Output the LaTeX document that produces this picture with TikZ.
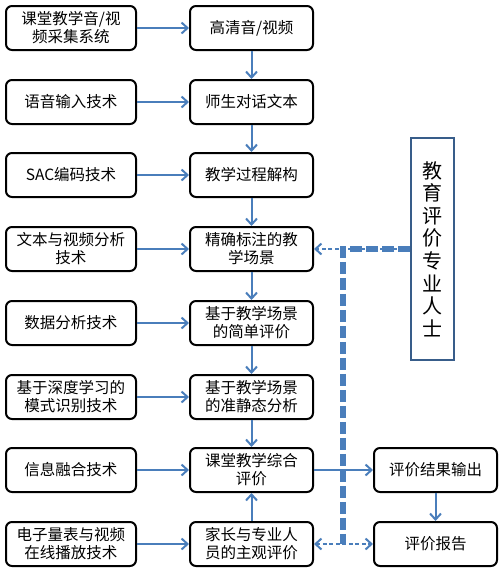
\documentclass[tikz,border=0pt]{standalone}
\usepackage{fontspec}
\setmainfont{Noto Sans CJK SC}
\usetikzlibrary{arrows.meta, positioning}
\definecolor{arrowblue}{HTML}{4A7EBB}
\definecolor{edgeblue}{HTML}{385D8A}

\begin{document}
\begin{tikzpicture}[x=1pt, y=-1pt,
  box/.style={draw, rounded corners=6pt, line width=2pt, align=center, inner sep=2pt,
    minimum height=44pt, font=\fontsize{15.5}{18}\selectfont},
  tech/.style={box, minimum width=130pt, text width=124pt},
  stage/.style={box, minimum width=123pt, text width=117pt},
  flow/.style={-{Straight Barb[length=6pt, width=11pt]}, draw=arrowblue, line width=2pt},
  hint/.style={draw=arrowblue, line width=2pt, dash pattern=on 4pt off 2.5pt},
  heavy/.style={draw=arrowblue, line width=5.5pt, dash pattern=on 12pt off 4pt}]
  \useasboundingbox (0,0) rectangle (501,574);

  \node[tech] (t1) at (71,28) {课堂教学音/视\\频采集系统};
  \node[tech] (t2) at (71,102) {语音输入技术};
  \node[tech] (t3) at (71,175) {SAC编码技术};
  \node[tech] (t4) at (71,249) {文本与视频分析\\技术};
  \node[tech] (t5) at (71,323) {数据分析技术};
  \node[tech] (t6) at (71,397) {基于深度学习的\\模式识别技术};
  \node[tech] (t7) at (71,470) {信息融合技术};
  \node[tech] (t8) at (71,544) {电子量表与视频\\在线播放技术};

  \node[stage] (s1) at (251.5,28) {高清音/视频};
  \node[stage] (s2) at (251.5,102) {师生对话文本};
  \node[stage] (s3) at (251.5,175) {教学过程解构};
  \node[stage] (s4) at (251.5,249) {精确标注的教\\学场景};
  \node[stage] (s5) at (251.5,323) {基于教学场景\\的简单评价};
  \node[stage] (s6) at (251.5,397) {基于教学场景\\的准静态分析};
  \node[stage] (s7) at (251.5,470) {课堂教学综合\\评价};
  \node[stage] (s8) at (251.5,544) {家长与专业人\\员的主观评价};

  \node[stage] (r1) at (435.5,470) {评价结果输出};
  \node[stage] (r2) at (435.5,544) {评价报告};

  \node[draw=edgeblue, line width=1.8pt, minimum width=43pt, minimum height=222pt, align=center,
    font=\fontsize{20}{22.6}\selectfont] (expert) at (432.5,249)
    {教\\育\\评\\价\\专\\业\\人\\士};

  \draw[flow] (t1) -- (s1);
  \draw[flow] (t2) -- (s2);
  \draw[flow] (t3) -- (s3);
  \draw[flow] (t4) -- (s4);
  \draw[flow] (t5) -- (s5);
  \draw[flow] (t6) -- (s6);
  \draw[flow] (t7) -- (s7);
  \draw[flow] (t8) -- (s8);

  \draw[flow] (s1) -- (s2);
  \draw[flow] (s2) -- (s3);
  \draw[flow] (s3) -- (s4);
  \draw[flow] (s4) -- (s5);
  \draw[flow] (s5) -- (s6);
  \draw[flow] (s6) -- (s7);
  \draw[flow] (s8) -- (s7);

  \coordinate (bend) at (343,249);
  \coordinate (foot) at (343,544);
  \draw[hint, -{Straight Barb[length=6pt, width=11pt]}] (expert.west) -- (s4.east);
  \draw[heavy] (expert.west) -- (bend) -- (foot);
  \draw[hint, {Straight Barb[length=6pt, width=11pt]}-{Straight Barb[length=6pt, width=11pt]}] (s8) -- (r2);

  \draw[flow] (s7) -- (r1);
  \draw[flow] (r1) -- (r2);
\end{tikzpicture}
\end{document}
